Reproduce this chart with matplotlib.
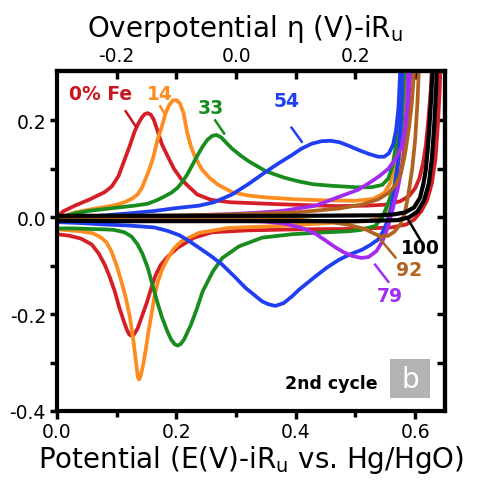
import matplotlib
matplotlib.use("Agg")
import matplotlib.pyplot as plt
import numpy as np

plt.rcParams['font.family'] = ['DejaVu Sans']
plt.rcParams['mathtext.fontset'] = 'dejavusans'

# ---------------- data (potential V vs Hg/HgO, current density) ----------------
red_an_x = [0.0, 0.01, 0.03, 0.055, 0.08, 0.092, 0.103, 0.113, 0.122, 0.13, 0.136, 0.142, 0.147, 0.152, 0.157,
            0.162, 0.168, 0.176, 0.185, 0.196, 0.208, 0.22, 0.235, 0.258, 0.29, 0.33, 0.37, 0.42, 0.47, 0.52,
            0.55, 0.575, 0.59, 0.60, 0.607, 0.613, 0.618, 0.622, 0.626, 0.629]
red_an_y = [0.0, 0.012, 0.024, 0.037, 0.052, 0.064, 0.085, 0.118, 0.148, 0.177, 0.193, 0.206, 0.213, 0.215,
            0.212, 0.202, 0.18, 0.15, 0.127, 0.1, 0.079, 0.064, 0.047, 0.036, 0.031, 0.029, 0.027, 0.025, 0.023,
            0.024, 0.026, 0.033, 0.044, 0.06, 0.08, 0.11, 0.15, 0.2, 0.26, 0.33]
red_ca_x = [0.643, 0.641, 0.638, 0.634, 0.628, 0.62, 0.61, 0.598, 0.585, 0.56, 0.50, 0.40, 0.32, 0.26, 0.23,
            0.202, 0.185, 0.174, 0.165, 0.158, 0.150, 0.141, 0.135, 0.129, 0.125, 0.121, 0.117, 0.112, 0.104,
            0.097, 0.088, 0.08, 0.07, 0.058, 0.04, 0.02, 0.0]
red_ca_y = [0.33, 0.26, 0.19, 0.12, 0.07, 0.035, 0.012, -0.005, -0.015, -0.021, -0.024, -0.025, -0.027, -0.031,
            -0.042, -0.063, -0.082, -0.098, -0.12, -0.146, -0.178, -0.209, -0.23, -0.242, -0.245, -0.242,
            -0.232, -0.215, -0.185, -0.154, -0.122, -0.098, -0.075, -0.056, -0.044, -0.038, -0.035]

orange_an_x = [0.0, 0.015, 0.03, 0.055, 0.08, 0.1, 0.113, 0.125, 0.135, 0.142, 0.148, 0.155, 0.162, 0.168, 0.175,
               0.182, 0.188, 0.194, 0.2, 0.206, 0.212, 0.218, 0.224, 0.23, 0.242, 0.255, 0.27, 0.293, 0.32, 0.35,
               0.4, 0.45, 0.5, 0.53, 0.548, 0.558, 0.567, 0.574, 0.58, 0.586]
orange_an_y = [-0.005, 0.004, 0.01, 0.016, 0.021, 0.026, 0.031, 0.038, 0.047, 0.06, 0.078, 0.1, 0.127, 0.158,
               0.185, 0.215, 0.232, 0.241, 0.242, 0.235, 0.215, 0.175, 0.148, 0.128, 0.1, 0.082, 0.067, 0.052,
               0.045, 0.041, 0.037, 0.035, 0.034, 0.038, 0.05, 0.07, 0.11, 0.16, 0.22, 0.33]
orange_ca_x = [0.592, 0.589, 0.584, 0.577, 0.568, 0.558, 0.545, 0.52, 0.48, 0.372, 0.288, 0.238, 0.208, 0.196,
               0.186, 0.177, 0.169, 0.163, 0.158, 0.153, 0.149, 0.145, 0.142, 0.1395, 0.1375, 0.1355, 0.133,
               0.128, 0.122, 0.115, 0.108, 0.1, 0.091, 0.083, 0.074, 0.06, 0.04, 0.02, 0.0]
orange_ca_y = [0.33, 0.25, 0.17, 0.11, 0.06, 0.025, 0.0, -0.008, -0.01, -0.018, -0.022, -0.032, -0.05, -0.064,
               -0.084, -0.105, -0.133, -0.165, -0.202, -0.238, -0.271, -0.3, -0.318, -0.33, -0.335, -0.33,
               -0.305, -0.255, -0.205, -0.165, -0.133, -0.1, -0.07, -0.052, -0.042, -0.033, -0.029, -0.027,
               -0.025]

green_an_x = [0.0, 0.015, 0.03, 0.052, 0.08, 0.108, 0.13, 0.152, 0.167, 0.18, 0.192, 0.202, 0.21, 0.218, 0.226,
              0.235, 0.244, 0.252, 0.26, 0.267, 0.275, 0.285, 0.293, 0.308, 0.322, 0.35, 0.38, 0.405, 0.43, 0.46,
              0.5, 0.527, 0.545, 0.555, 0.562, 0.568, 0.573, 0.578]
green_an_y = [-0.005, 0.003, 0.008, 0.013, 0.017, 0.021, 0.024, 0.028, 0.035, 0.043, 0.051, 0.061, 0.073, 0.088,
              0.106, 0.127, 0.146, 0.16, 0.168, 0.17, 0.165, 0.152, 0.142, 0.127, 0.115, 0.095, 0.082, 0.074,
              0.068, 0.065, 0.062, 0.062, 0.067, 0.08, 0.105, 0.15, 0.21, 0.33]
green_ca_x = [0.583, 0.578, 0.572, 0.565, 0.555, 0.545, 0.533, 0.51, 0.488, 0.45, 0.394, 0.344, 0.305, 0.277,
              0.261, 0.244, 0.234, 0.224, 0.213, 0.207, 0.202, 0.197, 0.191, 0.185, 0.176, 0.168, 0.16, 0.152,
              0.143, 0.135, 0.125, 0.113, 0.095, 0.08, 0.05, 0.03, 0.0]
green_ca_y = [0.33, 0.2, 0.12, 0.065, 0.03, 0.0, -0.018, -0.026, -0.029, -0.031, -0.035, -0.042, -0.06, -0.084,
              -0.112, -0.153, -0.19, -0.223, -0.252, -0.262, -0.265, -0.262, -0.252, -0.236, -0.207, -0.175,
              -0.14, -0.104, -0.075, -0.056, -0.04, -0.031, -0.026, -0.025, -0.024, -0.023, -0.023]

blue_an_x = [0.0, 0.04, 0.08, 0.12, 0.163, 0.2, 0.238, 0.263, 0.293, 0.32, 0.35, 0.372, 0.393, 0.41, 0.427,
             0.443, 0.458, 0.473, 0.488, 0.505, 0.522, 0.538, 0.548, 0.556, 0.563, 0.568, 0.572, 0.576]
blue_an_y = [-0.005, 0.0, 0.004, 0.008, 0.013, 0.019, 0.024, 0.031, 0.047, 0.068, 0.094, 0.112, 0.128, 0.142,
             0.152, 0.157, 0.158, 0.155, 0.148, 0.139, 0.131, 0.125, 0.125, 0.132, 0.15, 0.18, 0.225, 0.33]
blue_ca_x = [0.579, 0.576, 0.572, 0.566, 0.56, 0.553, 0.545, 0.538, 0.525, 0.511, 0.49, 0.472, 0.452, 0.433,
             0.418, 0.405, 0.394, 0.38, 0.366, 0.355, 0.344, 0.33, 0.316, 0.297, 0.277, 0.258, 0.238, 0.22,
             0.205, 0.185, 0.163, 0.12, 0.08, 0.04, 0.0]
blue_ca_y = [0.33, 0.2, 0.12, 0.06, 0.02, -0.01, -0.032, -0.046, -0.057, -0.067, -0.077, -0.088, -0.104, -0.122,
             -0.137, -0.15, -0.163, -0.177, -0.183, -0.18, -0.174, -0.16, -0.146, -0.122, -0.098, -0.08, -0.063,
             -0.048, -0.037, -0.028, -0.021, -0.017, -0.015, -0.012, -0.01]

purple_an_x = [0.0, 0.1, 0.2, 0.28, 0.33, 0.377, 0.433, 0.472, 0.505, 0.522, 0.54, 0.555, 0.567, 0.577, 0.582,
               0.586, 0.589]
purple_an_y = [-0.003, 0.0, 0.003, 0.006, 0.009, 0.013, 0.024, 0.042, 0.057, 0.07, 0.085, 0.1, 0.12, 0.145,
               0.175, 0.225, 0.33]
purple_ca_x = [0.593, 0.588, 0.58, 0.571, 0.562, 0.553, 0.545, 0.535, 0.522, 0.51, 0.495, 0.48, 0.465, 0.45,
               0.433, 0.41, 0.38, 0.35, 0.288, 0.2, 0.1, 0.0]
purple_ca_y = [0.33, 0.2, 0.12, 0.06, 0.015, -0.025, -0.05, -0.07, -0.082, -0.084, -0.08, -0.072, -0.061,
               -0.048, -0.034, -0.022, -0.013, -0.009, -0.006, -0.005, -0.005, -0.006]

brown_an_x = [0.0, 0.1, 0.2, 0.3, 0.4, 0.472, 0.51, 0.538, 0.555, 0.567, 0.576, 0.583, 0.589, 0.594, 0.6]
brown_an_y = [0.0, 0.003, 0.004, 0.006, 0.01, 0.018, 0.026, 0.037, 0.05, 0.066, 0.09, 0.13, 0.18, 0.23, 0.33]
brown_ca_x = [0.607, 0.604, 0.6, 0.595, 0.589, 0.583, 0.575, 0.565, 0.555, 0.543, 0.53, 0.517, 0.49, 0.46,
              0.405, 0.3, 0.2, 0.1, 0.0]
brown_ca_y = [0.33, 0.24, 0.16, 0.1, 0.05, 0.01, -0.015, -0.03, -0.038, -0.04, -0.033, -0.025, -0.016, -0.01,
              -0.005, -0.004, -0.004, -0.004, -0.004]

black_an_x = [0.0, 0.2, 0.4, 0.54, 0.565, 0.583, 0.598, 0.608, 0.614, 0.618, 0.621, 0.624, 0.627, 0.63]
black_an_y = [0.003, 0.003, 0.003, 0.004, 0.006, 0.01, 0.02, 0.04, 0.07, 0.1, 0.14, 0.19, 0.25, 0.33]
black_ca_x = [0.637, 0.635, 0.632, 0.628, 0.623, 0.615, 0.604, 0.59, 0.57, 0.5, 0.3, 0.1, 0.0]
black_ca_y = [0.33, 0.26, 0.19, 0.12, 0.07, 0.035, 0.012, 0.0, -0.006, -0.008, -0.008, -0.008, -0.007]

series_names = ["0% Fe", "14", "33", "54", "79", "92", "100"]
series_colors = ['#d41f26', '#fd8d20', '#198c1f', '#1f3ff0', '#a32cf0', '#b0621e', '#000000']
label_colors = ['#c8161e', '#fd8d20', '#198c1f', '#1f3ff0', '#a32cf0', '#b0621e', '#000000']

# ---------------- figure ----------------
fig = plt.figure(figsize=(4.79, 4.81), dpi=100)
ax = fig.add_axes([57/479, 1-412/481, (445-57)/479, (412-72)/481])

curves = [
    (red_an_x, red_an_y, red_ca_x, red_ca_y),
    (orange_an_x, orange_an_y, orange_ca_x, orange_ca_y),
    (green_an_x, green_an_y, green_ca_x, green_ca_y),
    (blue_an_x, blue_an_y, blue_ca_x, blue_ca_y),
    (purple_an_x, purple_an_y, purple_ca_x, purple_ca_y),
    (brown_an_x, brown_an_y, brown_ca_x, brown_ca_y),
    (black_an_x, black_an_y, black_ca_x, black_ca_y),
]
for (ax_x, ax_y, cx, cy), col in zip(curves, series_colors):
    xs = list(ax_x) + list(cx)
    ys = list(ax_y) + list(cy)
    lw = 3.0 if col == '#000000' else 2.7
    ax.plot(xs, ys, color=col, lw=lw, solid_joinstyle='round', solid_capstyle='round')

ax.set_xlim(0, 0.65)
ax.set_ylim(-0.4, 0.302)

for s in ax.spines.values():
    s.set_linewidth(3)

ax.set_xticks([0.0, 0.2, 0.4, 0.6])
ax.set_xticks([0.1, 0.3, 0.5], minor=True)
ax.set_xticklabels(["0.0", "0.2", "0.4", "0.6"])
ax.set_yticks([-0.4, -0.2, 0.0, 0.2])
ax.set_yticks([-0.3, -0.1, 0.1], minor=True)
ax.set_yticklabels(["-0.4", "-0.2", "0.0", "0.2"])
ax.tick_params(which='both', direction='out', width=2.5, labelsize=13.5)
ax.tick_params(axis='x', which='major', length=6, pad=2)
ax.tick_params(axis='x', which='minor', length=4)
ax.tick_params(axis='y', which='major', length=5, pad=3)
ax.tick_params(axis='y', which='minor', length=5)

# right ticks (inward, no labels)
axr = ax.secondary_yaxis('right')
axr.set_yticks([-0.3, -0.2, -0.1, 0.0, 0.1, 0.2])
axr.tick_params(direction='in', length=6, width=2.5, labelright=False)
axr.spines['right'].set_linewidth(3)

# top overpotential axis
axt = ax.secondary_xaxis('top', functions=(lambda x: x - 0.3, lambda e: e + 0.3))
axt.set_xticks([-0.2, 0.0, 0.2])
axt.set_xticklabels(["-0.2", "0.0", "0.2"])
axt.set_xticks([-0.1, 0.1, 0.3], minor=True)
axt.tick_params(which='both', direction='in', length=6, width=2.5, labelsize=13.5, pad=4)
axt.spines['top'].set_linewidth(3)

fig.text(0.525, 1-468/481, r'Potential (E(V)-iR$_{\mathregular{u}}$ vs. Hg/HgO)', ha='center',
         va='baseline', fontsize=20)
fig.text(0.511, 1-37/481, r'Overpotential η (V)-iR$_{\mathregular{u}}$', ha='center', va='baseline',
         fontsize=20)

# labels and leader lines
label_pos = [(0.073, 0.256), (0.172, 0.256), (0.258, 0.227), (0.385, 0.242), (0.558, -0.162), (0.59, -0.108),
             (0.608, -0.063)]
leaders = [((0.115, 0.132), (0.219, 0.1875)), ((0.173, 0.18), (0.229, 0.215)), ((0.265, 0.28), (0.2, 0.173)),
           ((0.393, 0.41), (0.185, 0.156)), ((0.533, 0.555), (-0.098, -0.133)), ((0.542, 0.567), (-0.046, -0.083)),
           ((0.588, 0.613), (-0.004, -0.056))]
for name, col, (lx, ly), (sx, sy) in zip(series_names, label_colors, label_pos, leaders):
    ax.text(lx, ly, name, color=col, fontsize=13.5, fontweight='bold', ha='center', va='center')
    ax.plot(sx, sy, color=col, lw=1.8)

ax.text(0.46, -0.342, "2nd cycle", fontsize=12.5, fontweight='bold', ha='center', va='center')
ax.add_patch(plt.Rectangle((0.558, -0.373), 0.067, 0.081, facecolor='#b3b3b3', edgecolor='none', zorder=3))
ax.text(0.5915, -0.333, "b", color='white', fontsize=20, ha='center', va='center', zorder=4)

fig.savefig("out.png", dpi=100)
